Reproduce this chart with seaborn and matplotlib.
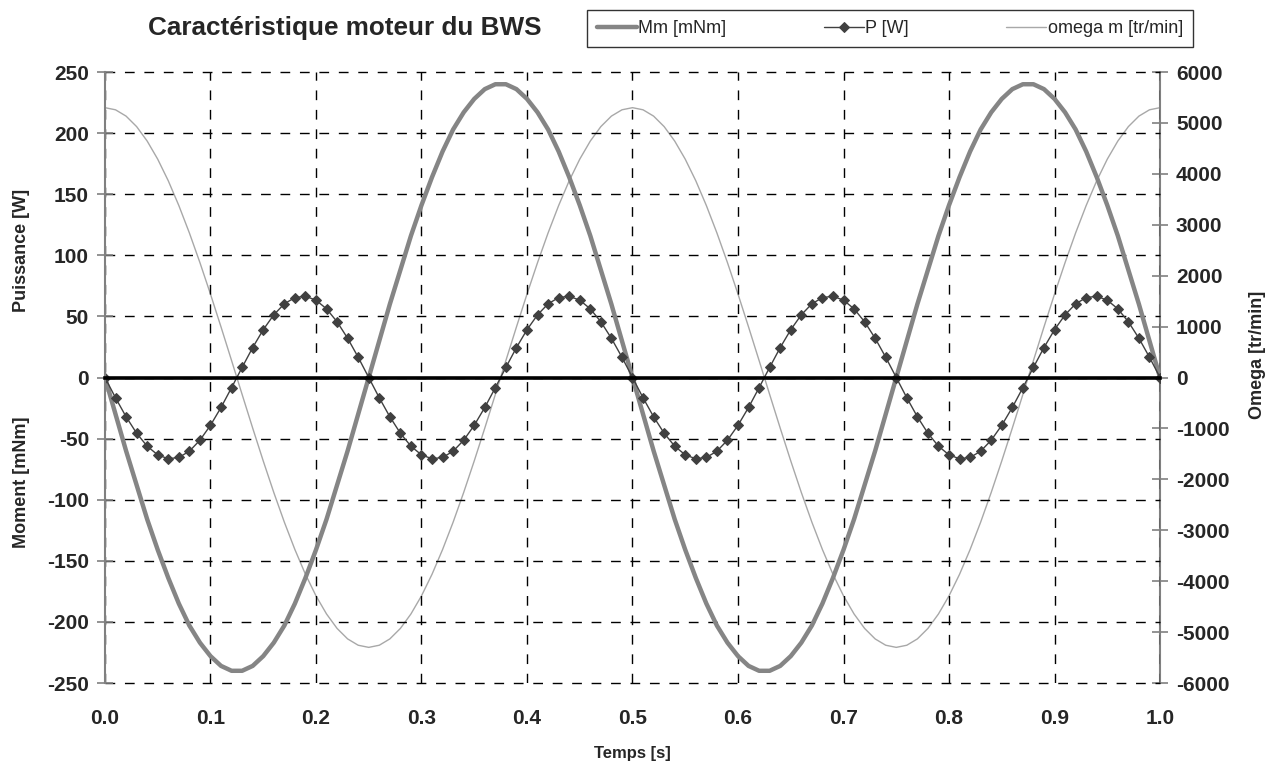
import numpy as np
import pandas as pd
import matplotlib
matplotlib.use("Agg")
import matplotlib.pyplot as plt
from matplotlib.ticker import FormatStrFormatter
import seaborn as sns

# Donnees (pas de 0.01 s)
temps = [
    0.00, 0.01, 0.02, 0.03, 0.04, 0.05, 0.06, 0.07, 0.08, 0.09,
    0.10, 0.11, 0.12, 0.13, 0.14, 0.15, 0.16, 0.17, 0.18, 0.19,
    0.20, 0.21, 0.22, 0.23, 0.24, 0.25, 0.26, 0.27, 0.28, 0.29,
    0.30, 0.31, 0.32, 0.33, 0.34, 0.35, 0.36, 0.37, 0.38, 0.39,
    0.40, 0.41, 0.42, 0.43, 0.44, 0.45, 0.46, 0.47, 0.48, 0.49,
    0.50, 0.51, 0.52, 0.53, 0.54, 0.55, 0.56, 0.57, 0.58, 0.59,
    0.60, 0.61, 0.62, 0.63, 0.64, 0.65, 0.66, 0.67, 0.68, 0.69,
    0.70, 0.71, 0.72, 0.73, 0.74, 0.75, 0.76, 0.77, 0.78, 0.79,
    0.80, 0.81, 0.82, 0.83, 0.84, 0.85, 0.86, 0.87, 0.88, 0.89,
    0.90, 0.91, 0.92, 0.93, 0.94, 0.95, 0.96, 0.97, 0.98, 0.99,
    1.00,
]

# Moment moteur [mNm]
mm = [
    0, -30, -60, -88, -116, -141, -164, -185, -203, -217, -228, -236, -240,
    -240, -236, -228, -217, -203, -185, -164, -141, -116, -88, -60, -30,
    0, 30, 60, 88, 116, 141, 164, 185, 203, 217, 228, 236, 240,
    240, 236, 228, 217, 203, 185, 164, 141, 116, 88, 60, 30,
    0, -30, -60, -88, -116, -141, -164, -185, -203, -217, -228, -236, -240,
    -240, -236, -228, -217, -203, -185, -164, -141, -116, -88, -60, -30,
    0, 30, 60, 88, 116, 141, 164, 185, 203, 217, 228, 236, 240,
    240, 236, 228, 217, 203, 185, 164, 141, 116, 88, 60, 30,
    0,
]

# Puissance [W]
puissance = [
    0, -16.6, -32.1, -45.6, -56.2, -63.3, -66.5, -65.4, -60.3, -51.3, -39.1, -24.5, -8.3,
    8.3, 24.5, 39.1, 51.3, 60.3, 65.4, 66.5, 63.3, 56.2, 45.6, 32.1, 16.6,
    0, -16.6, -32.1, -45.6, -56.2, -63.3, -66.5, -65.4, -60.3, -51.3, -39.1, -24.5, -8.3,
    8.3, 24.5, 39.1, 51.3, 60.3, 65.4, 66.5, 63.3, 56.2, 45.6, 32.1, 16.6,
    0, -16.6, -32.1, -45.6, -56.2, -63.3, -66.5, -65.4, -60.3, -51.3, -39.1, -24.5, -8.3,
    8.3, 24.5, 39.1, 51.3, 60.3, 65.4, 66.5, 63.3, 56.2, 45.6, 32.1, 16.6,
    0, -16.6, -32.1, -45.6, -56.2, -63.3, -66.5, -65.4, -60.3, -51.3, -39.1, -24.5, -8.3,
    8.3, 24.5, 39.1, 51.3, 60.3, 65.4, 66.5, 63.3, 56.2, 45.6, 32.1, 16.6,
    0,
]

# Vitesse moteur [tr/min]
omega = [
    5300, 5258, 5134, 4928, 4644, 4288, 3864, 3378, 2840, 2257, 1638, 993, 333,
    -333, -993, -1638, -2257, -2840, -3378, -3864, -4288, -4644, -4928, -5134, -5258,
    -5300, -5258, -5134, -4928, -4644, -4288, -3864, -3378, -2840, -2257, -1638, -993, -333,
    333, 993, 1638, 2257, 2840, 3378, 3864, 4288, 4644, 4928, 5134, 5258,
    5300, 5258, 5134, 4928, 4644, 4288, 3864, 3378, 2840, 2257, 1638, 993, 333,
    -333, -993, -1638, -2257, -2840, -3378, -3864, -4288, -4644, -4928, -5134, -5258,
    -5300, -5258, -5134, -4928, -4644, -4288, -3864, -3378, -2840, -2257, -1638, -993, -333,
    333, 993, 1638, 2257, 2840, 3378, 3864, 4288, 4644, 4928, 5134, 5258,
    5300,
]

x_ticks = [0.0, 0.1, 0.2, 0.3, 0.4, 0.5, 0.6, 0.7, 0.8, 0.9, 1.0]
y_ticks = [-250, -200, -150, -100, -50, 0, 50, 100, 150, 200, 250]
y2_ticks = [-6000, -5000, -4000, -3000, -2000, -1000, 0, 1000, 2000, 3000, 4000, 5000, 6000]

df = pd.DataFrame({"t": temps, "Mm": mm, "P": puissance, "omega": omega})

sns.set_style("white")
plt.rcParams["font.family"] = ["Liberation Sans", "DejaVu Sans"]
plt.rcParams["axes.unicode_minus"] = False

fig = plt.figure(figsize=(12.77, 7.67), dpi=100)
ax = fig.add_axes([0.0822, 0.1095, 0.8262, 0.7966])
ax2 = ax.twinx()
# courbes de gauche au-dessus de omega
ax.set_zorder(ax2.get_zorder() + 1)
ax.patch.set_visible(False)

sns.lineplot(data=df, x="t", y="omega", ax=ax2, color="#a8a8a8", linewidth=1.0,
             label="omega m [tr/min]")
sns.lineplot(data=df, x="t", y="Mm", ax=ax, color="#858585", linewidth=3.2,
             label="Mm [mNm]")
sns.lineplot(data=df, x="t", y="P", ax=ax, color="#404040", linewidth=1.0,
             marker="D", markersize=5, markeredgecolor="#404040",
             label="P [W]")
for a in (ax, ax2):
    if a.get_legend() is not None:
        a.get_legend().remove()

ax.set_xlim(0, 1)
ax.set_ylim(-250, 250)
ax2.set_ylim(-6000, 6000)
ax.set_xticks(x_ticks)
ax.set_yticks(y_ticks)
ax2.set_yticks(y2_ticks)
ax.set_xlabel("")
ax.set_ylabel("")
ax2.set_ylabel("")

grid_style = dict(color="black", linestyle=(0, (7, 7)), linewidth=1.0)
ax.grid(True, axis="both", **grid_style)
ax.set_axisbelow(True)
for gl in ax.get_xgridlines() + ax.get_ygridlines():
    gl.set_clip_on(False)

# axe des x sur la ligne du zero
ax.spines["bottom"].set_position(("data", 0))
ax.spines["bottom"].set_color("black")
ax.spines["bottom"].set_linewidth(2.6)
ax.spines["top"].set_visible(False)
ax.spines["right"].set_visible(False)
ax.spines["left"].set_color("#808080")
ax.spines["left"].set_linewidth(1.5)
ax.tick_params(axis="x", direction="out", length=5, width=2.5, color="black",
               labelbottom=False)
ax.tick_params(axis="y", direction="inout", length=11, width=1.2, color="#808080",
               labelsize=15, pad=6)
for lab in ax.get_yticklabels():
    lab.set_fontweight("bold")

for s in ("left", "top", "bottom"):
    ax2.spines[s].set_visible(False)
ax2.spines["right"].set_color("#808080")
ax2.spines["right"].set_linewidth(1.5)
ax2.tick_params(axis="y", direction="inout", length=11, width=1.2, color="#808080",
                labelsize=15, pad=6)
for lab in ax2.get_yticklabels():
    lab.set_fontweight("bold")

# etiquettes du temps en bas du graphique
sec = ax.secondary_xaxis("bottom")
sec.set_xticks(x_ticks)
sec.xaxis.set_major_formatter(FormatStrFormatter("%.1f"))
sec.spines["bottom"].set_visible(False)
sec.tick_params(axis="x", length=0, labelsize=15, pad=18.5)
for lab in sec.get_xticklabels():
    lab.set_fontweight("bold")
sec.set_xlabel("Temps [s]", fontsize=12, fontweight="bold", labelpad=13)

fig.text(22 / 1277, 1 - 250 / 767, "Puissance [W]", rotation=90, fontsize=13,
         fontweight="bold", ha="center", va="center")
fig.text(22 / 1277, 1 - 482 / 767, "Moment [mNm]", rotation=90, fontsize=13,
         fontweight="bold", ha="center", va="center")
fig.text(1258 / 1277, 1 - 355 / 767, "Omega [tr/min]", rotation=90, fontsize=13,
         fontweight="bold", ha="center", va="center")

fig.text(148 / 1277, 1 - 28 / 767, "Caractéristique moteur du BWS", fontsize=18.8,
         fontweight="bold", ha="left", va="center")

h1, l1 = ax.get_legend_handles_labels()
h2, l2 = ax2.get_legend_handles_labels()
leg = fig.legend(h1 + h2, l1 + l2, loc="lower left", ncol=3, mode="expand",
                 bbox_to_anchor=(587 / 1277, 1 - 47 / 767, 606 / 1277, 40 / 767),
                 fontsize=13, frameon=True, fancybox=False, handlelength=2.2,
                 handletextpad=0.1, borderpad=0.55, borderaxespad=0)
leg.get_frame().set_edgecolor("black")
leg.get_frame().set_linewidth(1.0)

fig.savefig("out.png", dpi=100)
